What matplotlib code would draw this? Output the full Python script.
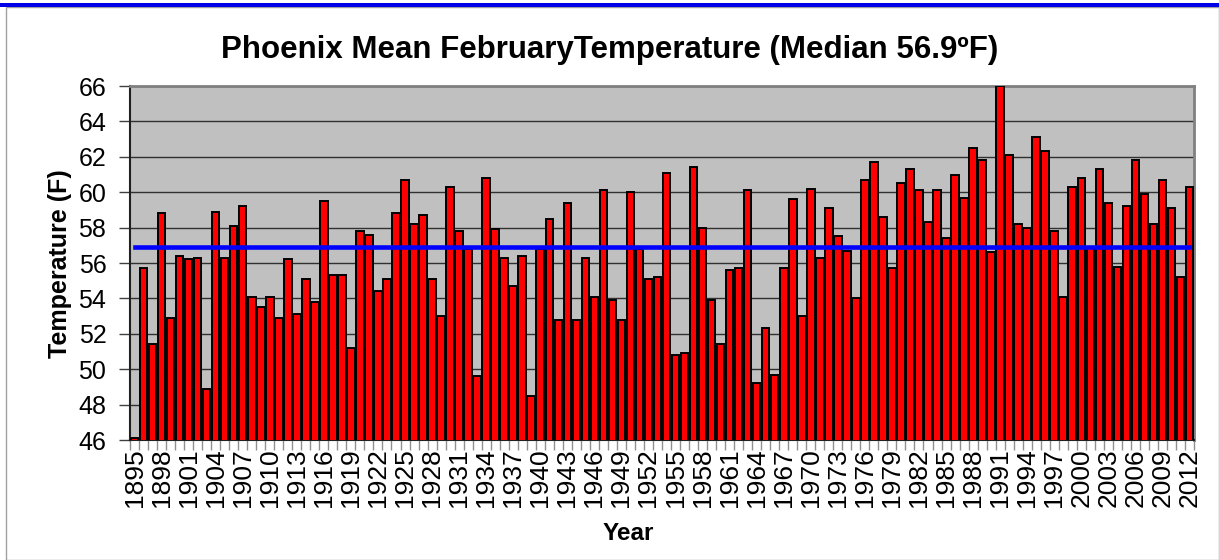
import matplotlib
matplotlib.use("Agg")
import matplotlib.pyplot as plt
from matplotlib.patches import Rectangle
from matplotlib.ticker import FixedLocator, NullFormatter
import numpy as np

# Phoenix mean February temperature (deg F), 1895-2012
first_year = 1895
temps = [
    46.1, 55.7, 51.4, 58.8, 52.9, 56.4, 56.2, 56.3, 48.9, 58.9,   # 1895-1904
    56.3, 58.1, 59.2, 54.1, 53.5, 54.1, 52.9, 56.2, 53.1, 55.1,   # 1905-1914
    53.8, 59.5, 55.3, 55.3, 51.2, 57.8, 57.6, 54.4, 55.1, 58.8,   # 1915-1924
    60.7, 58.2, 58.7, 55.1, 53.0, 60.3, 57.8, 56.8, 49.6, 60.8,   # 1925-1934
    57.9, 56.3, 54.7, 56.4, 48.5, 56.8, 58.5, 52.8, 59.4, 52.8,   # 1935-1944
    56.3, 54.1, 60.1, 53.9, 52.8, 60.0, 56.8, 55.1, 55.2, 61.1,   # 1945-1954
    50.8, 50.9, 61.4, 58.0, 53.9, 51.4, 55.6, 55.7, 60.1, 49.2,   # 1955-1964
    52.3, 49.7, 55.7, 59.6, 53.0, 60.2, 56.3, 59.1, 57.5, 56.7,   # 1965-1974
    54.0, 60.7, 61.7, 58.6, 55.7, 60.5, 61.3, 60.1, 58.3, 60.1,   # 1975-1984
    57.4, 61.0, 59.7, 62.5, 61.8, 56.6, 66.0, 62.1, 58.2, 58.0,   # 1985-1994
    63.1, 62.3, 57.8, 54.1, 60.3, 60.8, 56.9, 61.3, 59.4, 55.8,   # 1995-2004
    59.2, 61.8, 59.9, 58.2, 60.7, 59.1, 55.2, 60.3,               # 2005-2012
]
years = [first_year + i for i in range(len(temps))]
median_temp = 56.9
y_ticks = list(range(46, 67, 2))
label_step = 3

FONT = "Liberation Sans"
W, H = 1219, 560
fig = plt.figure(figsize=(W / 100, H / 100), dpi=100)
fig.patch.set_facecolor("white")

# outer frame and top rule
fig.patches.append(Rectangle((6 / W, 0), (W - 6) / W, (H - 7) / H,
                             transform=fig.transFigure, fill=False,
                             edgecolor="#a0a0a0", linewidth=1.0))
fig.patches.append(Rectangle((0, (H - 6.5) / H), 1, 4 / H,
                             transform=fig.transFigure, facecolor="#0000e8",
                             edgecolor="none"))

left, right, top, bottom = 130, 1194, 86, 440
ax = fig.add_axes([left / W, 1 - bottom / H, (right - left) / W, (bottom - top) / H])
ax.set_facecolor("#c0c0c0")

x = np.arange(len(temps))
ax.bar(x, temps, width=0.84, color="#ff0000", edgecolor="black",
       linewidth=1.4, zorder=3)
ax.plot([x[0], x[-1]], [median_temp, median_temp], color="#0000ff",
        linewidth=3.3, solid_capstyle="projecting", zorder=4)

ax.set_xlim(-0.5, len(temps) - 0.5)
ax.set_ylim(46, 66)

ax.set_yticks(y_ticks)
ax.set_yticklabels([str(v) for v in y_ticks], fontsize=18, family=FONT)
ax.yaxis.grid(True, color="#303030", linewidth=1.0, zorder=1)
ax.set_axisbelow(True)
ax.tick_params(axis="y", length=8, width=1, color="#404040", pad=9)

major = x[::label_step]
ax.set_xticks(major)
ax.set_xticklabels([str(years[i]) for i in major], rotation=90,
                   fontsize=19, family=FONT)
ax.xaxis.set_minor_locator(FixedLocator(np.arange(-0.5, len(temps), 1.0)))
ax.xaxis.set_minor_formatter(NullFormatter())
ax.tick_params(axis="x", which="major", length=0, pad=6)
ax.tick_params(axis="x", which="minor", length=7, width=1, color="#909090")

for side in ("top", "right"):
    ax.spines[side].set_color("#808080")
    ax.spines[side].set_linewidth(2)
for side in ("left", "bottom"):
    ax.spines[side].set_color("#202020")
    ax.spines[side].set_linewidth(1.5)

fig.text(610 / W, 1 - 50 / H,
         "Phoenix Mean FebruaryTemperature (Median 56.9\u00baF)",
         ha="center", va="center", fontsize=22.5, fontweight="bold", family=FONT)
fig.text(60 / W, 1 - 264 / H, "Temperature (F)", rotation=90,
         ha="center", va="center", fontsize=18, fontweight="bold", family=FONT)
fig.text(628 / W, 1 - 534 / H, "Year", ha="center", va="center",
         fontsize=17.5, fontweight="bold", family=FONT)

fig.savefig("out.png", dpi=100)
